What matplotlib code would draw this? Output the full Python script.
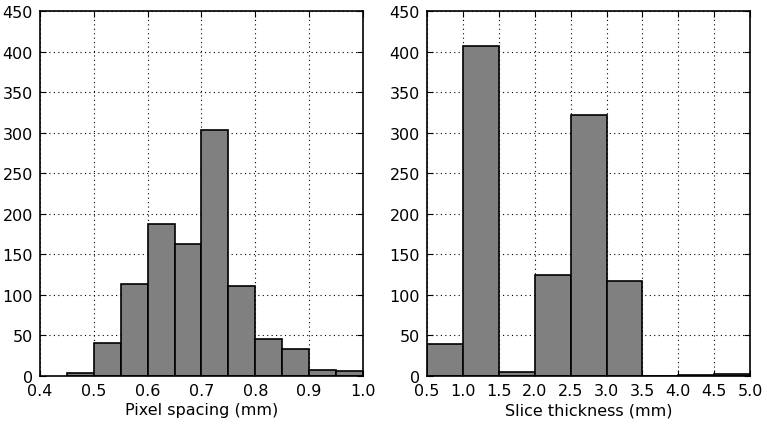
import numpy as np
import matplotlib
matplotlib.use("Agg")
import matplotlib.pyplot as plt

# Pixel spacing histogram (bin edges in mm, counts per bin)
spacing_edges = [0.45, 0.50, 0.55, 0.60, 0.65, 0.70, 0.75, 0.80, 0.85, 0.90, 0.95, 1.00]
spacing_counts = [4, 41, 113, 187, 163, 303, 111, 46, 33, 8, 6]

# Slice thickness histogram
thickness_edges = [0.5, 1.0, 1.5, 2.0, 2.5, 3.0, 3.5, 4.0, 4.5, 5.0]
thickness_counts = [39, 407, 5, 124, 322, 117, 0, 1, 3]

spacing_ticks = [0.4, 0.5, 0.6, 0.7, 0.8, 0.9, 1.0]
thickness_ticks = [0.5, 1.0, 1.5, 2.0, 2.5, 3.0, 3.5, 4.0, 4.5, 5.0]
y_ticks = list(range(0, 451, 50))


def draw_hist(ax, edges, counts, xlim, xticks, xlabel):
    edges = np.asarray(edges)
    ax.bar(edges[:-1], counts, width=np.diff(edges), align="edge",
           color="#808080", edgecolor="black", linewidth=1.2, zorder=2)
    ax.set_xlim(*xlim)
    ax.set_ylim(0, 450)
    ax.set_xticks(xticks)
    ax.set_xticklabels([f"{t:.1f}" for t in xticks])
    ax.set_yticks(y_ticks)
    ax.set_xlabel(xlabel, fontsize=11.5, labelpad=3)
    ax.grid(True, linestyle=(0, (1, 3)), color="black", linewidth=0.8, zorder=0)
    ax.set_axisbelow(True)
    ax.tick_params(direction="in", labelsize=11.5, length=4, top=True, right=True, pad=5)
    for spine in ax.spines.values():
        spine.set_linewidth(1.2)


fig, (ax1, ax2) = plt.subplots(1, 2, figsize=(7.67, 4.27), dpi=100)
fig.subplots_adjust(left=0.052, right=0.978, bottom=0.117, top=0.972, wspace=0.198)

draw_hist(ax1, spacing_edges, spacing_counts, (0.4, 1.0), spacing_ticks, "Pixel spacing (mm)")
draw_hist(ax2, thickness_edges, thickness_counts, (0.5, 5.0), thickness_ticks, "Slice thickness (mm)")

fig.savefig("out.png", dpi=100)
